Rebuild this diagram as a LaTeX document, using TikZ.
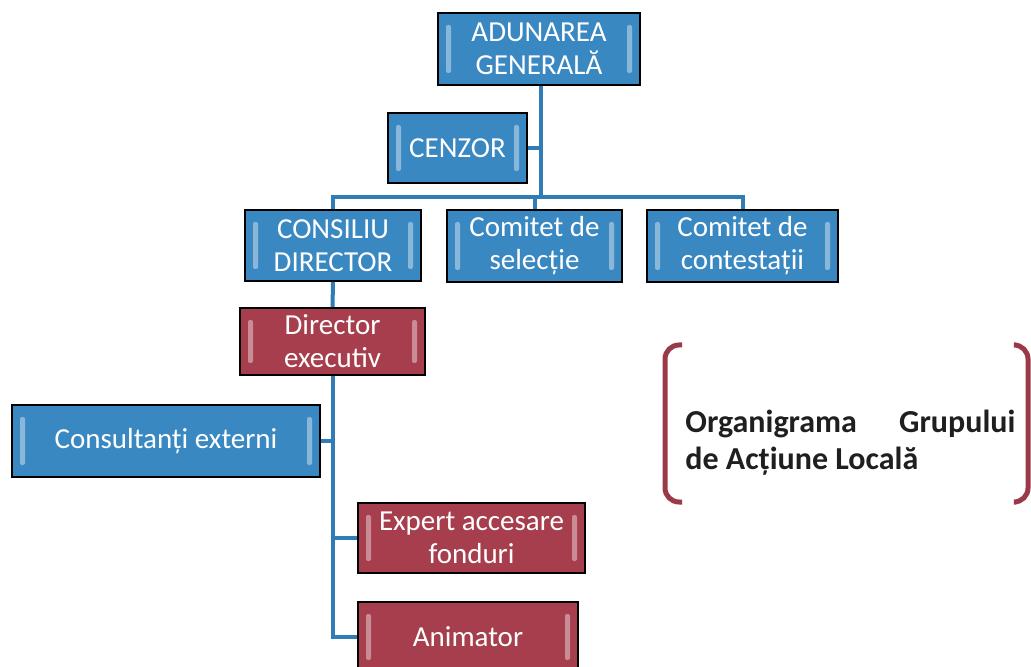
\documentclass[tikz,border=0pt]{standalone}
\usepackage{fontspec}
\setmainfont{Carlito}
\definecolor{boxblue}{HTML}{3A88C2}
\definecolor{boxred}{HTML}{A63E4D}
\definecolor{lineblue}{HTML}{2F7CB6}
\definecolor{brackred}{HTML}{9A3A48}
\tikzset{
  bevel/.style={path picture={
    \fill[white,opacity=0.4,rounded corners=1pt] ([xshift=4pt,yshift=6pt]path picture bounding box.south west) rectangle ([xshift=6.5pt,yshift=-6pt]path picture bounding box.north west);
    \fill[white,opacity=0.4,rounded corners=1pt] ([xshift=-4pt,yshift=6pt]path picture bounding box.south east) rectangle ([xshift=-6.5pt,yshift=-6pt]path picture bounding box.north east);
  }},
  bluebox/.style={draw=black,line width=0.8pt,fill=boxblue,text=white,align=center,inner sep=0pt,
    font=\fontsize{14.5pt}{16.5pt}\selectfont,bevel},
  redbox/.style={bluebox,fill=boxred},
  link/.style={lineblue,line width=2pt},
  brack/.style={brackred,line width=2.5pt,rounded corners=7pt}
}
\begin{document}
\begin{tikzpicture}[x=0.5pt,y=-0.5pt]
    \useasboundingbox (0,0) rectangle (1031,667);
    \clip (0,0) rectangle (1031,667);

    \node[bluebox,minimum width=101pt,minimum height=36pt] (adunare) at (539,49) {ADUNAREA\\GENERALĂ};
    \node[bluebox,minimum width=69.5pt,minimum height=35pt] (cenzor) at (457.5,148) {CENZOR};
    \node[bluebox,minimum width=88pt,minimum height=35.5pt] (consiliu) at (333,245.5) {CONSILIU\\DIRECTOR};
    \node[bluebox,minimum width=87.5pt,minimum height=36pt] (selectie) at (534.5,246) {Comitet de\\selecție};
    \node[bluebox,minimum width=95.5pt,minimum height=36pt] (contest) at (742.5,246) {Comitet de\\contestații};
    \node[redbox,minimum width=92.5pt,minimum height=33.5pt] (director) at (332.5,341.5) {Director\\executiv};
    \node[bluebox,minimum width=154pt,minimum height=36pt] (consult) at (166,441) {Consultanți externi};
    \node[redbox,minimum width=113.5pt,minimum height=35pt] (expert) at (471.5,538) {Expert accesare\\fonduri};
    \node[redbox,minimum width=110pt,minimum height=35pt] (animator) at (468,637) {Animator};

    \coordinate (trunk) at (541,197);
    \draw[link] (adunare.south -| trunk) -- (trunk);
    \draw[link] (cenzor.east) -- (cenzor.east -| trunk);
    \draw[link] (consiliu.north) |- (contest.north |- trunk) -- (contest.north);
    \draw[link] (selectie.north) -- (selectie.north |- trunk);
    \draw[link] (consiliu.south) -- (director.north);
    \draw[link] (director.south) |- (animator.west);
    \draw[link] (consult.east) -- (consult.east -| director.south);
    \draw[link] (expert.west) -- (expert.west -| director.south);

    \draw[brack] (682,345) -- (665,345) -- (665,502) -- (682,502);
    \draw[brack] (1016,345) -- (1028,345) -- (1028,502) -- (1016,502);
    \node[align=left,inner sep=0pt,anchor=west,text=black!88,
      font=\fontsize{16pt}{18.5pt}\selectfont\bfseries] (titlu) at (685,443)
      {\makebox[165pt][s]{Organigrama Grupului}\\de Acțiune Locală};
\end{tikzpicture}
\end{document}
